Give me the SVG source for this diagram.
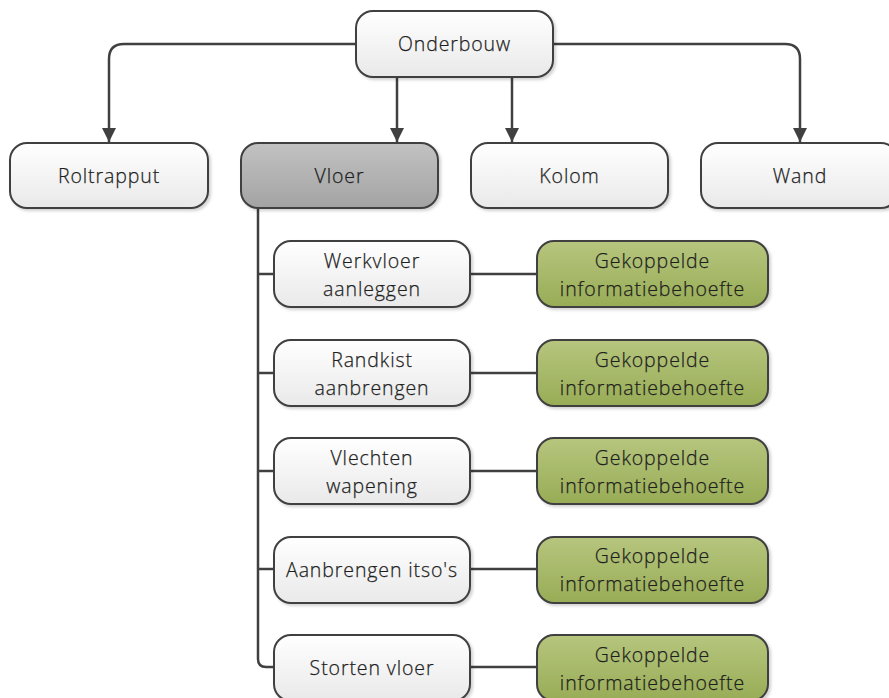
<svg xmlns="http://www.w3.org/2000/svg" width="889" height="698" viewBox="0 0 889 698">
<defs>
<linearGradient id="gw" x1="0" y1="0" x2="0" y2="1"><stop offset="0" stop-color="#ffffff"/><stop offset="1" stop-color="#e9e9e9"/></linearGradient>
<linearGradient id="gg" x1="0" y1="0" x2="0" y2="1"><stop offset="0" stop-color="#c2c2c2"/><stop offset="1" stop-color="#a3a3a3"/></linearGradient>
<linearGradient id="gn" x1="0" y1="0" x2="0" y2="1"><stop offset="0" stop-color="#b6c67e"/><stop offset="1" stop-color="#98ac56"/></linearGradient>
<filter id="sh" x="-10%" y="-10%" width="120%" height="130%"><feDropShadow dx="2" dy="2" stdDeviation="1.5" flood-color="#000" flood-opacity="0.18"/></filter>
<marker id="ar" markerWidth="14" markerHeight="16" refX="14" refY="7" orient="auto" markerUnits="userSpaceOnUse" viewBox="0 0 14 14"><path d="M0,0 L14,7 L0,14 Z" fill="#404040"/></marker>
</defs>
<style>
.b{stroke:#404040;stroke-width:2;filter:url(#sh)}
.w{fill:url(#gw)}
.g{fill:url(#gg)}
.n{fill:url(#gn)}
text{font-family:"Open Sans","Noto Sans","DejaVu Sans",sans-serif;font-size:19.5px;font-weight:300;fill:#1e1e1e;stroke:#1e1e1e;stroke-width:0.25;text-anchor:middle;letter-spacing:0.9px}
.c{fill:none;stroke:#404040;stroke-width:2.5}
</style>
<rect width="889" height="698" fill="#ffffff"/>
<g id="connectors">
<path class="c" d="M356,44 H124 Q109,44 109,59 V142" marker-end="url(#ar)"/>
<path class="c" d="M553,44 H785 Q800,44 800,59 V142" marker-end="url(#ar)"/>
<path class="c" d="M397,77 V142" marker-end="url(#ar)"/>
<path class="c" d="M512,77 V142" marker-end="url(#ar)"/>
<path class="c" d="M258,208 V659 Q258,667 266,667 H274"/>
<path class="c" d="M258,274 H274"/>
<path class="c" d="M258,373 H274"/>
<path class="c" d="M258,471 H274"/>
<path class="c" d="M258,569 H274"/>
<path class="c" d="M470,274 H537"/>
<path class="c" d="M470,373 H537"/>
<path class="c" d="M470,471 H537"/>
<path class="c" d="M470,569 H537"/>
<path class="c" d="M470,667 H537"/>
</g>
<g id="onderbouw"><rect class="b w" x="356" y="11" width="197" height="66" rx="17"/><text x="454.5" y="51">Onderbouw</text></g>
<g id="roltrapput"><rect class="b w" x="10" y="143" width="198" height="65" rx="17"/><text x="109" y="183">Roltrapput</text></g>
<g id="vloer"><rect class="b g" x="241" y="143" width="197" height="65" rx="17"/><text x="339.5" y="183">Vloer</text></g>
<g id="kolom"><rect class="b w" x="471" y="143" width="197" height="65" rx="17"/><text x="569.5" y="183">Kolom</text></g>
<g id="wand"><rect class="b w" x="701" y="143" width="197" height="65" rx="17"/><text x="800" y="183">Wand</text></g>
<g id="werkvloer"><rect class="b w" x="274" y="241" width="196" height="66" rx="17"/><text x="372" y="268">Werkvloer</text><text x="372" y="296">aanleggen</text></g>
<g id="info1"><rect class="b n" x="537" y="241" width="231" height="66" rx="17"/><text x="652.5" y="268">Gekoppelde</text><text x="652.5" y="296">informatiebehoefte</text></g>
<g id="randkist"><rect class="b w" x="274" y="340" width="196" height="66" rx="17"/><text x="372" y="367">Randkist</text><text x="372" y="395">aanbrengen</text></g>
<g id="info2"><rect class="b n" x="537" y="340" width="231" height="66" rx="17"/><text x="652.5" y="367">Gekoppelde</text><text x="652.5" y="395">informatiebehoefte</text></g>
<g id="vlechten"><rect class="b w" x="274" y="438" width="196" height="66" rx="17"/><text x="372" y="465">Vlechten</text><text x="372" y="493">wapening</text></g>
<g id="info3"><rect class="b n" x="537" y="438" width="231" height="66" rx="17"/><text x="652.5" y="465">Gekoppelde</text><text x="652.5" y="493">informatiebehoefte</text></g>
<g id="itsos"><rect class="b w" x="274" y="537" width="196" height="66" rx="17"/><text x="372" y="577">Aanbrengen itso's</text></g>
<g id="info4"><rect class="b n" x="537" y="537" width="231" height="66" rx="17"/><text x="652.5" y="563">Gekoppelde</text><text x="652.5" y="591">informatiebehoefte</text></g>
<g id="storten"><rect class="b w" x="274" y="635" width="196" height="66" rx="17"/><text x="372" y="675">Storten vloer</text></g>
<g id="info5"><rect class="b n" x="537" y="635" width="231" height="66" rx="17"/><text x="652.5" y="662">Gekoppelde</text><text x="652.5" y="690">informatiebehoefte</text></g>
</svg>
